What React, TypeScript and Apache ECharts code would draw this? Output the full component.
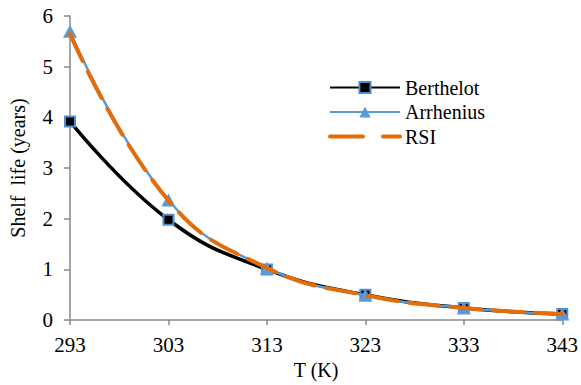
import React, { useEffect, useRef } from "react";
import * as echarts from "echarts";

const temperatures = ["293", "303", "313", "323", "333", "343"];
const berthelot = [3.92, 1.98, 1.0, 0.5, 0.24, 0.12];
const arrhenius = [5.7, 2.37, 1.03, 0.49, 0.24, 0.12];
const rsi = [5.65, 2.36, 1.03, 0.49, 0.24, 0.12];
const yTicks = { min: 0, max: 6, interval: 1 };

const FONT = "Liberation Serif";

export default function App() {
  const ref = useRef<HTMLDivElement>(null);
  useEffect(() => {
    if (!ref.current) return;
    const chart = echarts.init(ref.current, undefined, { renderer: "svg" });
    chart.setOption({
      animation: false,
      backgroundColor: "#ffffff",
      textStyle: { fontFamily: FONT },
      grid: { left: 70, right: 17, top: 16, bottom: 43 },
      legend: {
        orient: "vertical",
        left: 323,
        top: 72.5,
        itemWidth: 70,
        itemHeight: 14,
        itemGap: 4.5,
        textStyle: { fontFamily: FONT, fontSize: 20, color: "#000" },
        data: [
          { name: "Berthelot" },
          { name: "Arrhenius" },
          {
            name: "RSI",
            itemStyle: { color: "rgba(0,0,0,0)", opacity: 0, borderWidth: 0 },
            lineStyle: { type: [33, 20], cap: "round", width: 4 },
          },
        ],
      },
      xAxis: {
        type: "category",
        data: temperatures,
        boundaryGap: false,
        name: "T (K)",
        nameLocation: "middle",
        nameGap: 25,
        nameTextStyle: { fontFamily: FONT, fontSize: 20, color: "#000" },
        axisLine: { lineStyle: { color: "#898989", width: 1.5 } },
        axisTick: { alignWithLabel: true, length: 5, lineStyle: { color: "#898989", width: 1.5 } },
        axisLabel: { fontFamily: FONT, fontSize: 21, color: "#000", margin: 14 },
        splitLine: { show: false },
      },
      yAxis: {
        type: "value",
        min: yTicks.min,
        max: yTicks.max,
        interval: yTicks.interval,
        name: "Shelf  life (years)",
        nameLocation: "middle",
        nameGap: 42,
        nameTextStyle: { fontFamily: FONT, fontSize: 20, color: "#000" },
        axisLine: { show: true, lineStyle: { color: "#898989", width: 1.5 } },
        axisTick: { show: true, length: 6, lineStyle: { color: "#898989", width: 1.5 } },
        axisLabel: { fontFamily: FONT, fontSize: 21, color: "#000", margin: 17 },
        splitLine: { show: false },
      },
      series: [
        {
          name: "Berthelot",
          type: "line",
          data: berthelot,
          smooth: 0.45,
          symbol: "rect",
          symbolSize: 10,
          lineStyle: { color: "#000000", width: 3.5 },
          itemStyle: { color: "#000000", borderColor: "#4f8fd0", borderWidth: 2 },
          z: 2,
        },
        {
          name: "Arrhenius",
          type: "line",
          data: arrhenius,
          smooth: 0.45,
          symbol: "triangle",
          symbolSize: [14, 13],
          lineStyle: { color: "#5b9bd5", width: 2.5 },
          itemStyle: { color: "#5b9bd5" },
          z: 3,
        },
        {
          name: "RSI",
          type: "line",
          data: rsi,
          smooth: 0.45,
          symbol: "none",
          lineStyle: { color: "#e46c0a", width: 4, type: [30, 12], cap: "round" },
          itemStyle: { color: "#e46c0a" },
          z: 4,
        },
      ],
    });
    return () => chart.dispose();
  }, []);
  return <div ref={ref} style={{ width: 581, height: 385, position: "absolute", left: 0, top: 0 }} />;
}
